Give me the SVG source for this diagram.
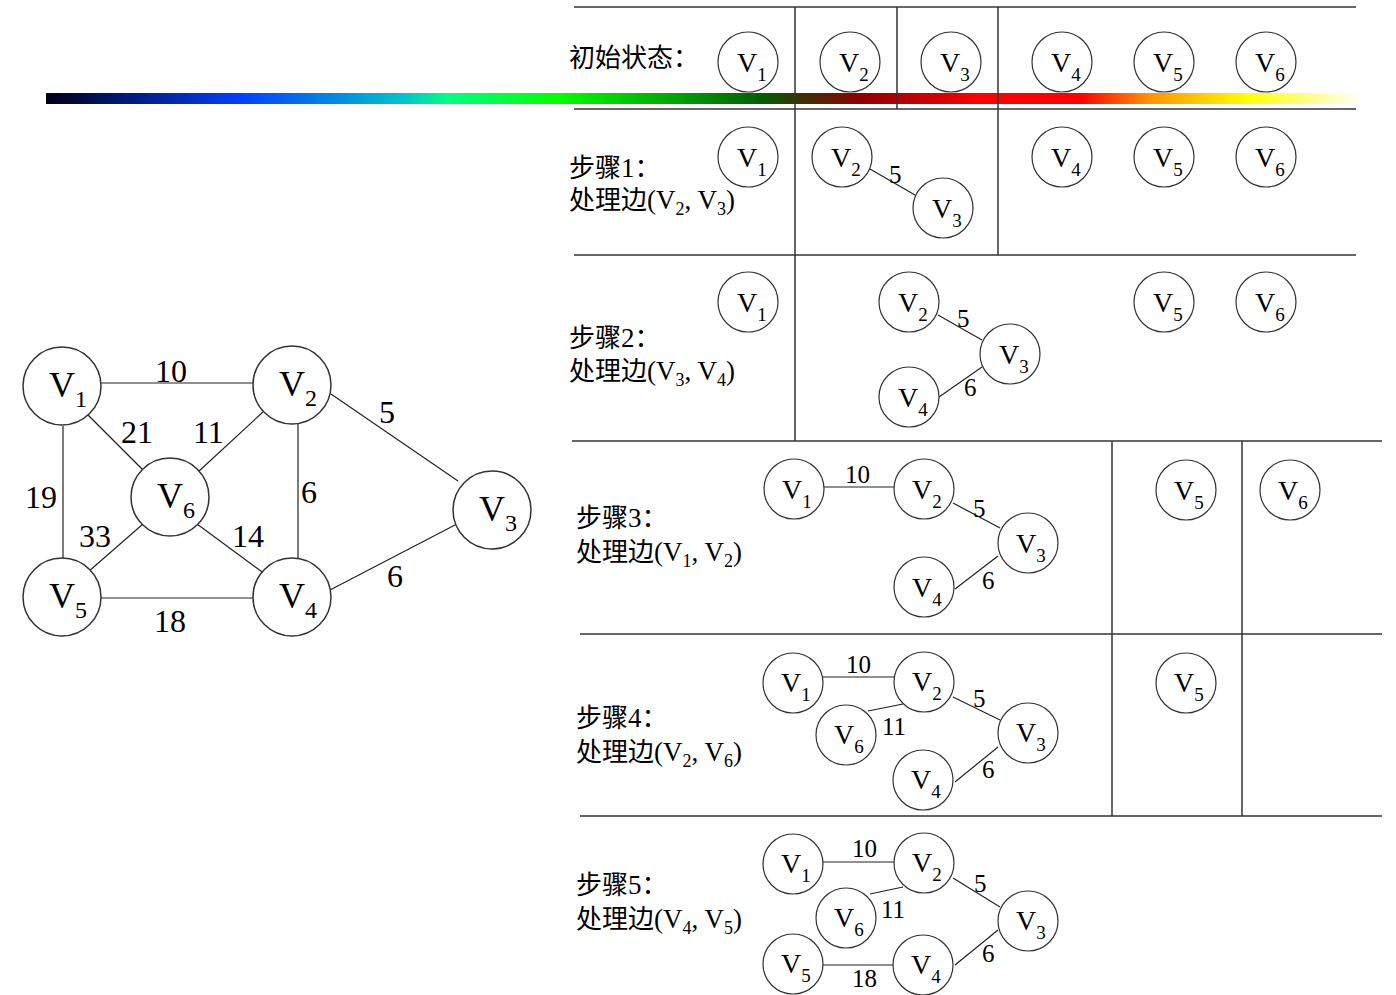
<svg xmlns="http://www.w3.org/2000/svg" width="1396" height="995" viewBox="0 0 1396 995">
<defs>
<linearGradient id="bar" x1="0" y1="0" x2="1" y2="0">
<stop offset="0" stop-color="#000018"/>
<stop offset="0.148" stop-color="#0040ff"/>
<stop offset="0.27" stop-color="#00c0d0"/>
<stop offset="0.305" stop-color="#00ff80"/>
<stop offset="0.39" stop-color="#00ff00"/>
<stop offset="0.543" stop-color="#006000"/>
<stop offset="0.575" stop-color="#403000"/>
<stop offset="0.62" stop-color="#900000"/>
<stop offset="0.71" stop-color="#ff0000"/>
<stop offset="0.786" stop-color="#ff0000"/>
<stop offset="0.837" stop-color="#ff9000"/>
<stop offset="0.913" stop-color="#ffff00"/>
<stop offset="1" stop-color="#ffffff"/>
</linearGradient>
</defs>
<style>
.grid line{stroke:#333;stroke-width:1.5}
.n circle{fill:#fff;stroke:#333;stroke-width:1.2}
.big circle{stroke-width:1.5}
.e line{stroke:#222;stroke-width:1.2}
.v{font-family:"Liberation Serif",serif;font-size:28px;fill:#000}
.v tspan{font-size:19px}
.vb{font-family:"Liberation Serif",serif;font-size:36px;fill:#000}
.vb tspan{font-size:24px}
.w{font-family:"Liberation Serif",serif;font-size:25px;fill:#000}
.wb{font-family:"Liberation Serif",serif;font-size:32px;fill:#000}
.t{font-family:"Liberation Serif","Noto Sans CJK SC",serif;font-size:26px;fill:#000}
.t tspan.s{font-size:18px}
.t tspan.r{font-size:27px}
</style>
<rect width="1396" height="995" fill="#fff"/>
<rect x="46" y="93" width="1316" height="11" fill="url(#bar)"/>
<g class="grid">
<line x1="574" y1="7" x2="1356" y2="7"/>
<line x1="574" y1="109" x2="1356" y2="109"/>
<line x1="574" y1="255" x2="1356" y2="255"/>
<line x1="572" y1="441" x2="1382" y2="441"/>
<line x1="580" y1="634" x2="1382" y2="634"/>
<line x1="580" y1="816" x2="1382" y2="816"/>
<line x1="795" y1="7" x2="795" y2="441"/>
<line x1="897" y1="7" x2="897" y2="109"/>
<line x1="998" y1="7" x2="998" y2="255"/>
<line x1="1112" y1="441" x2="1112" y2="816"/>
<line x1="1242" y1="441" x2="1242" y2="816"/>
</g>
<g id="labels">
<text class="t" x="569" y="67">初始状态：</text>
<text class="t" x="569" y="177">步骤<tspan class="r">1</tspan>：</text>
<text class="t" x="569" y="209">处理边<tspan class="r">(V</tspan><tspan class="s" dy="6">2</tspan><tspan class="r" dy="-6">, V</tspan><tspan class="s" dy="6">3</tspan><tspan class="r" dy="-6">)</tspan></text>
<text class="t" x="569" y="347">步骤<tspan class="r">2</tspan>：</text>
<text class="t" x="569" y="380">处理边<tspan class="r">(V</tspan><tspan class="s" dy="6">3</tspan><tspan class="r" dy="-6">, V</tspan><tspan class="s" dy="6">4</tspan><tspan class="r" dy="-6">)</tspan></text>
<text class="t" x="576" y="527">步骤<tspan class="r">3</tspan>：</text>
<text class="t" x="576" y="561">处理边<tspan class="r">(V</tspan><tspan class="s" dy="6">1</tspan><tspan class="r" dy="-6">, V</tspan><tspan class="s" dy="6">2</tspan><tspan class="r" dy="-6">)</tspan></text>
<text class="t" x="576" y="727">步骤<tspan class="r">4</tspan>：</text>
<text class="t" x="576" y="761">处理边<tspan class="r">(V</tspan><tspan class="s" dy="6">2</tspan><tspan class="r" dy="-6">, V</tspan><tspan class="s" dy="6">6</tspan><tspan class="r" dy="-6">)</tspan></text>
<text class="t" x="576" y="894">步骤<tspan class="r">5</tspan>：</text>
<text class="t" x="576" y="928">处理边<tspan class="r">(V</tspan><tspan class="s" dy="6">4</tspan><tspan class="r" dy="-6">, V</tspan><tspan class="s" dy="6">5</tspan><tspan class="r" dy="-6">)</tspan></text>
</g>
<g id="connectors" class="e">
<line x1="101" y1="383" x2="253" y2="383"/>
<line x1="88" y1="415" x2="143" y2="470"/>
<line x1="263" y1="412" x2="198" y2="472"/>
<line x1="331" y1="394" x2="458" y2="481"/>
<line x1="63" y1="426" x2="63" y2="558"/>
<line x1="298" y1="424" x2="298" y2="558"/>
<line x1="143" y1="524" x2="88" y2="572"/>
<line x1="197" y1="524" x2="265" y2="574"/>
<line x1="101" y1="598" x2="253" y2="598"/>
<line x1="330" y1="590" x2="455" y2="525"/>
<line x1="870" y1="169" x2="915" y2="195"/>
<line x1="938" y1="315" x2="982" y2="340"/>
<line x1="982" y1="367" x2="939" y2="397"/>
<line x1="824" y1="487" x2="894" y2="487"/>
<line x1="953" y1="503" x2="1000" y2="528"/>
<line x1="998" y1="556" x2="955" y2="589"/>
<line x1="823" y1="677" x2="894" y2="677"/>
<line x1="868" y1="711" x2="903" y2="704"/>
<line x1="953" y1="697" x2="1000" y2="720"/>
<line x1="998" y1="747" x2="955" y2="782"/>
<line x1="823" y1="862" x2="894" y2="862"/>
<line x1="870" y1="894" x2="903" y2="887"/>
<line x1="953" y1="878" x2="1000" y2="907"/>
<line x1="998" y1="930" x2="955" y2="965"/>
<line x1="823" y1="965" x2="893" y2="965"/>
</g>
<g id="edge-labels">
<text class="wb" x="155" y="382">10</text>
<text class="wb" x="121" y="443">21</text>
<text class="wb" x="193" y="443">11</text>
<text class="wb" x="379" y="423">5</text>
<text class="wb" x="25" y="508">19</text>
<text class="wb" x="301" y="503">6</text>
<text class="wb" x="79" y="547">33</text>
<text class="wb" x="232" y="547">14</text>
<text class="wb" x="154" y="632">18</text>
<text class="wb" x="387" y="587">6</text>
<text class="w" x="889" y="183">5</text>
<text class="w" x="957" y="327">5</text>
<text class="w" x="964" y="396">6</text>
<text class="w" x="845" y="483">10</text>
<text class="w" x="973" y="517">5</text>
<text class="w" x="982" y="589">6</text>
<text class="w" x="846" y="673">10</text>
<text class="w" x="882" y="735">11</text>
<text class="w" x="973" y="707">5</text>
<text class="w" x="982" y="778">6</text>
<text class="w" x="852" y="857">10</text>
<text class="w" x="881" y="918">11</text>
<text class="w" x="974" y="892">5</text>
<text class="w" x="982" y="962">6</text>
<text class="w" x="852" y="987">18</text>
</g>
<g id="g-v1" class="n big"><circle cx="62" cy="386" r="39"/><text class="vb" x="49" y="397">V<tspan dy="10">1</tspan></text></g>
<g id="g-v2" class="n big"><circle cx="292" cy="385" r="39"/><text class="vb" x="279" y="396">V<tspan dy="10">2</tspan></text></g>
<g id="g-v6" class="n big"><circle cx="170" cy="497" r="39"/><text class="vb" x="157" y="508">V<tspan dy="10">6</tspan></text></g>
<g id="g-v5" class="n big"><circle cx="62" cy="597" r="39"/><text class="vb" x="49" y="608">V<tspan dy="10">5</tspan></text></g>
<g id="g-v4" class="n big"><circle cx="292" cy="597" r="39"/><text class="vb" x="279" y="608">V<tspan dy="10">4</tspan></text></g>
<g id="g-v3" class="n big"><circle cx="492" cy="510" r="39"/><text class="vb" x="479" y="521">V<tspan dy="10">3</tspan></text></g>
<g id="s0-v1" class="n"><circle cx="748" cy="62" r="30"/><text class="v" x="737" y="72">V<tspan dy="9">1</tspan></text></g>
<g id="s0-v2" class="n"><circle cx="850" cy="62" r="30"/><text class="v" x="839" y="72">V<tspan dy="9">2</tspan></text></g>
<g id="s0-v3" class="n"><circle cx="951" cy="62" r="30"/><text class="v" x="940" y="72">V<tspan dy="9">3</tspan></text></g>
<g id="s0-v4" class="n"><circle cx="1062" cy="62" r="30"/><text class="v" x="1051" y="72">V<tspan dy="9">4</tspan></text></g>
<g id="s0-v5" class="n"><circle cx="1164" cy="62" r="30"/><text class="v" x="1153" y="72">V<tspan dy="9">5</tspan></text></g>
<g id="s0-v6" class="n"><circle cx="1266" cy="62" r="30"/><text class="v" x="1255" y="72">V<tspan dy="9">6</tspan></text></g>
<g id="s1-v1" class="n"><circle cx="748" cy="157" r="30"/><text class="v" x="737" y="167">V<tspan dy="9">1</tspan></text></g>
<g id="s1-v2" class="n"><circle cx="842" cy="157" r="30"/><text class="v" x="831" y="167">V<tspan dy="9">2</tspan></text></g>
<g id="s1-v3" class="n"><circle cx="943" cy="208" r="30"/><text class="v" x="932" y="218">V<tspan dy="9">3</tspan></text></g>
<g id="s1-v4" class="n"><circle cx="1062" cy="157" r="30"/><text class="v" x="1051" y="167">V<tspan dy="9">4</tspan></text></g>
<g id="s1-v5" class="n"><circle cx="1164" cy="157" r="30"/><text class="v" x="1153" y="167">V<tspan dy="9">5</tspan></text></g>
<g id="s1-v6" class="n"><circle cx="1266" cy="157" r="30"/><text class="v" x="1255" y="167">V<tspan dy="9">6</tspan></text></g>
<g id="s2-v1" class="n"><circle cx="748" cy="302" r="30"/><text class="v" x="737" y="312">V<tspan dy="9">1</tspan></text></g>
<g id="s2-v2" class="n"><circle cx="909" cy="302" r="30"/><text class="v" x="898" y="312">V<tspan dy="9">2</tspan></text></g>
<g id="s2-v3" class="n"><circle cx="1010" cy="354" r="30"/><text class="v" x="999" y="364">V<tspan dy="9">3</tspan></text></g>
<g id="s2-v4" class="n"><circle cx="909" cy="397" r="30"/><text class="v" x="898" y="407">V<tspan dy="9">4</tspan></text></g>
<g id="s2-v5" class="n"><circle cx="1164" cy="302" r="30"/><text class="v" x="1153" y="312">V<tspan dy="9">5</tspan></text></g>
<g id="s2-v6" class="n"><circle cx="1266" cy="302" r="30"/><text class="v" x="1255" y="312">V<tspan dy="9">6</tspan></text></g>
<g id="s3-v1" class="n"><circle cx="794" cy="489" r="30"/><text class="v" x="782" y="499">V<tspan dy="9">1</tspan></text></g>
<g id="s3-v2" class="n"><circle cx="924" cy="489" r="30"/><text class="v" x="912" y="499">V<tspan dy="9">2</tspan></text></g>
<g id="s3-v3" class="n"><circle cx="1028" cy="543" r="30"/><text class="v" x="1016" y="553">V<tspan dy="9">3</tspan></text></g>
<g id="s3-v4" class="n"><circle cx="924" cy="587" r="30"/><text class="v" x="912" y="597">V<tspan dy="9">4</tspan></text></g>
<g id="s3-v5" class="n"><circle cx="1186" cy="490" r="30"/><text class="v" x="1174" y="500">V<tspan dy="9">5</tspan></text></g>
<g id="s3-v6" class="n"><circle cx="1290" cy="490" r="30"/><text class="v" x="1278" y="500">V<tspan dy="9">6</tspan></text></g>
<g id="s4-v1" class="n"><circle cx="793" cy="683" r="30"/><text class="v" x="781" y="692">V<tspan dy="9">1</tspan></text></g>
<g id="s4-v2" class="n"><circle cx="924" cy="682" r="30"/><text class="v" x="912" y="691">V<tspan dy="9">2</tspan></text></g>
<g id="s4-v6" class="n"><circle cx="846" cy="735" r="30"/><text class="v" x="834" y="744">V<tspan dy="9">6</tspan></text></g>
<g id="s4-v3" class="n"><circle cx="1028" cy="733" r="30"/><text class="v" x="1016" y="742">V<tspan dy="9">3</tspan></text></g>
<g id="s4-v4" class="n"><circle cx="923" cy="780" r="30"/><text class="v" x="911" y="789">V<tspan dy="9">4</tspan></text></g>
<g id="s4-v5" class="n"><circle cx="1186" cy="683" r="30"/><text class="v" x="1174" y="692">V<tspan dy="9">5</tspan></text></g>
<g id="s5-v1" class="n"><circle cx="793" cy="864" r="30"/><text class="v" x="781" y="873">V<tspan dy="9">1</tspan></text></g>
<g id="s5-v2" class="n"><circle cx="924" cy="863" r="30"/><text class="v" x="912" y="872">V<tspan dy="9">2</tspan></text></g>
<g id="s5-v6" class="n"><circle cx="846" cy="918" r="30"/><text class="v" x="834" y="927">V<tspan dy="9">6</tspan></text></g>
<g id="s5-v3" class="n"><circle cx="1028" cy="921" r="30"/><text class="v" x="1016" y="930">V<tspan dy="9">3</tspan></text></g>
<g id="s5-v5" class="n"><circle cx="793" cy="964" r="30"/><text class="v" x="781" y="973">V<tspan dy="9">5</tspan></text></g>
<g id="s5-v4" class="n"><circle cx="923" cy="965" r="30"/><text class="v" x="911" y="974">V<tspan dy="9">4</tspan></text></g>
</svg>
